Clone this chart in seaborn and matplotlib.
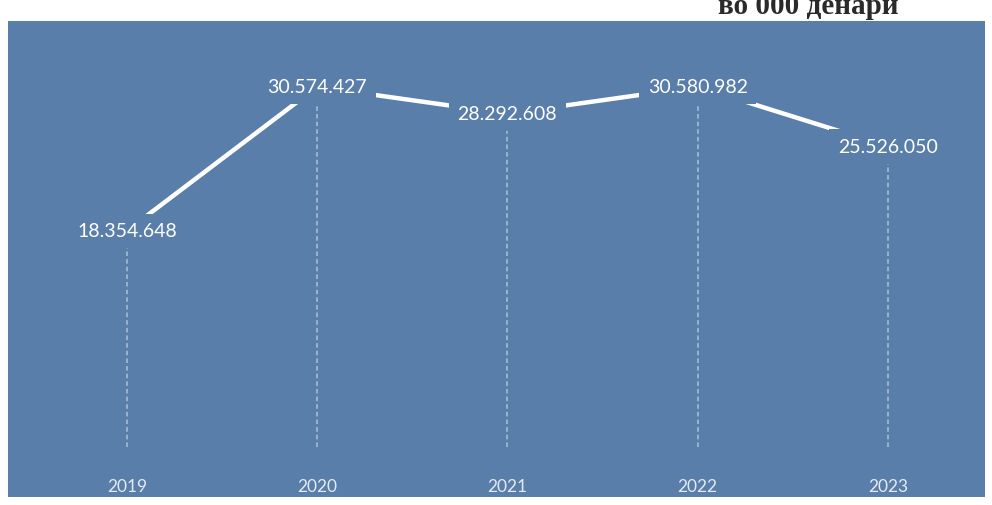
import matplotlib.pyplot as plt
import numpy as np
import pandas as pd
import seaborn as sns

years = ["2019", "2020", "2021", "2022", "2023"]
values = [18354648, 30574427, 28292608, 30580982, 25526050]
value_labels = ["18.354.648", "30.574.427", "28.292.608", "30.580.982", "25.526.050"]
title = "во 000 денари"

bg = "#597ea9"

sns.set_style("white")
plt.rcParams['font.family'] = ['Lato', 'DejaVu Sans']

df = pd.DataFrame({"pos": np.arange(len(years)), "value": values})

fig = plt.figure(figsize=(9.92, 5.06), dpi=100, facecolor="white")
ax = fig.add_axes([8 / 992, 8 / 506, 977 / 992, 476 / 506])
ax.set_facecolor(bg)

# drop lines from each value down to zero
ax.vlines(df["pos"], 0, df["value"], colors="#d5e6f2", linewidth=1.1,
          linestyles=(0, (3, 2)), alpha=0.65, zorder=1)

sns.lineplot(data=df, x="pos", y="value", color="white", linewidth=3.2,
             ax=ax, zorder=2)

for p, v, lab in zip(df["pos"], df["value"], value_labels):
    ax.text(p, v, lab, ha="center", va="center", color="white", fontsize=14,
            zorder=3,
            bbox=dict(boxstyle="square,pad=0.45", fc=bg, ec="none"))

for p, yr in zip(df["pos"], years):
    ax.text(p, -3.3e6, yr, ha="center", va="center", color="#e3eaf1",
            fontsize=12.5, zorder=3)

ax.set_xlim(-0.625, 4.51)
ax.set_ylim(-4.24e6, 36.16e6)
ax.set_xticks([])
ax.set_yticks([])
ax.set_xlabel("")
ax.set_ylabel("")
for s in ax.spines.values():
    s.set_visible(False)

# title sits at the top edge, partly cut off as in the scan
fig.text(808 / 992, 1 - 14 / 506, title, ha="center", va="baseline",
         fontsize=21, fontweight="bold", family="Liberation Serif",
         color="#2a2a2a")

fig.savefig("out.png", dpi=100, facecolor="white")
